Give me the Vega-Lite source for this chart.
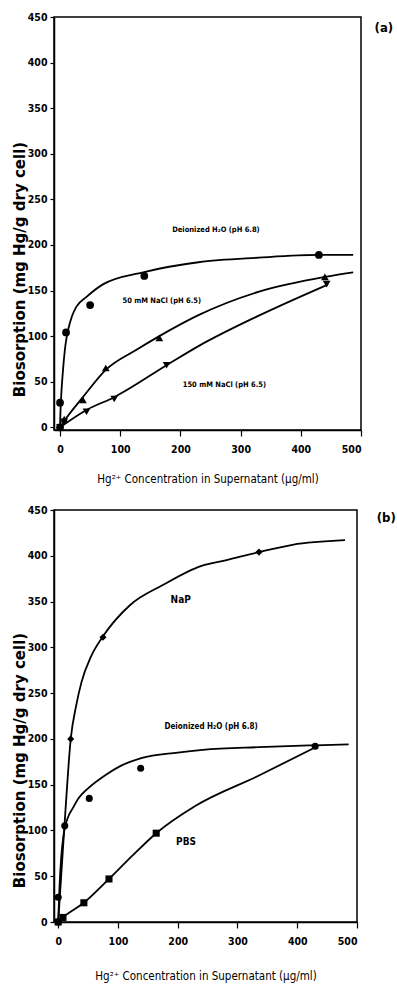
{
  "$schema": "https://vega.github.io/schema/vega-lite/v6.json",
  "background": "white",
  "padding": {"left": 11, "top": 11, "right": 0, "bottom": 0},
  "spacing": 80,
  "bounds": "flush",
  "config": {
    "view": {"stroke": "black", "strokeWidth": 1.5},
    "axis": {"domainColor": "black", "domainWidth": 1.5, "tickColor": "black", "tickWidth": 1.2, "grid": false,
             "labelFont": "DejaVu Sans Condensed", "labelFontWeight": "bold", "labelFontSize": 10.5, "labelColor": "black",
             "titleColor": "black"},
    "axisX": {"tickSize": 6, "labelPadding": 8, "titleFont": "DejaVu Sans Condensed", "titleFontWeight": "normal", "titleFontSize": 11.5, "titleBaseline": "alphabetic"},
    "axisY": {"tickSize": 4, "labelPadding": 3, "titleFont": "DejaVu Sans", "titleFontWeight": "bold", "titleFontSize": 15, "titleAngle": 270, "titleAlign": "center", "titleBaseline": "middle"}
  },
  "datasets": {
    "pts": [
      {"panel": "a", "series": "D", "x": 0, "y": 0},
      {"panel": "a", "series": "D", "x": 0, "y": 27},
      {"panel": "a", "series": "D", "x": 10, "y": 104},
      {"panel": "a", "series": "D", "x": 50, "y": 134},
      {"panel": "a", "series": "D", "x": 140, "y": 166},
      {"panel": "a", "series": "D", "x": 430, "y": 189},
      {"panel": "a", "series": "N50", "x": 0, "y": 0},
      {"panel": "a", "series": "N50", "x": 7, "y": 9},
      {"panel": "a", "series": "N50", "x": 38, "y": 30},
      {"panel": "a", "series": "N50", "x": 76, "y": 65},
      {"panel": "a", "series": "N50", "x": 165, "y": 98},
      {"panel": "a", "series": "N50", "x": 440, "y": 165},
      {"panel": "a", "series": "N150", "x": 0, "y": 0},
      {"panel": "a", "series": "N150", "x": 7, "y": 6},
      {"panel": "a", "series": "N150", "x": 44, "y": 17},
      {"panel": "a", "series": "N150", "x": 90, "y": 31},
      {"panel": "a", "series": "N150", "x": 177, "y": 68},
      {"panel": "a", "series": "N150", "x": 443, "y": 157},
      {"panel": "b", "series": "D", "x": 0, "y": 0},
      {"panel": "b", "series": "D", "x": 0, "y": 27},
      {"panel": "b", "series": "D", "x": 11, "y": 105},
      {"panel": "b", "series": "D", "x": 52, "y": 135},
      {"panel": "b", "series": "D", "x": 138, "y": 168},
      {"panel": "b", "series": "D", "x": 430, "y": 192},
      {"panel": "b", "series": "NaP", "x": 0, "y": 0},
      {"panel": "b", "series": "NaP", "x": 21, "y": 200},
      {"panel": "b", "series": "NaP", "x": 75, "y": 311},
      {"panel": "b", "series": "NaP", "x": 336, "y": 404},
      {"panel": "b", "series": "PBS", "x": 0, "y": 0},
      {"panel": "b", "series": "PBS", "x": 8, "y": 5},
      {"panel": "b", "series": "PBS", "x": 43, "y": 21},
      {"panel": "b", "series": "PBS", "x": 85, "y": 47},
      {"panel": "b", "series": "PBS", "x": 164, "y": 97}
    ],
    "curves": [
      {"panel": "a", "series": "D", "x": 0, "y": 0},
      {"panel": "a", "series": "D", "x": 0.5, "y": 12},
      {"panel": "a", "series": "D", "x": 2, "y": 35},
      {"panel": "a", "series": "D", "x": 5, "y": 63},
      {"panel": "a", "series": "D", "x": 9, "y": 90},
      {"panel": "a", "series": "D", "x": 13.5, "y": 107},
      {"panel": "a", "series": "D", "x": 20, "y": 122},
      {"panel": "a", "series": "D", "x": 27, "y": 132},
      {"panel": "a", "series": "D", "x": 44, "y": 143},
      {"panel": "a", "series": "D", "x": 72, "y": 157},
      {"panel": "a", "series": "D", "x": 138, "y": 170},
      {"panel": "a", "series": "D", "x": 230, "y": 181},
      {"panel": "a", "series": "D", "x": 330, "y": 186},
      {"panel": "a", "series": "D", "x": 430, "y": 189},
      {"panel": "a", "series": "D", "x": 487, "y": 189},
      {"panel": "a", "series": "N50", "x": 0, "y": 0},
      {"panel": "a", "series": "N50", "x": 5, "y": 5},
      {"panel": "a", "series": "N50", "x": 38, "y": 33},
      {"panel": "a", "series": "N50", "x": 76, "y": 63},
      {"panel": "a", "series": "N50", "x": 127, "y": 85},
      {"panel": "a", "series": "N50", "x": 165, "y": 100},
      {"panel": "a", "series": "N50", "x": 230, "y": 123},
      {"panel": "a", "series": "N50", "x": 332, "y": 149},
      {"panel": "a", "series": "N50", "x": 440, "y": 165},
      {"panel": "a", "series": "N50", "x": 487, "y": 170},
      {"panel": "a", "series": "N150", "x": 0, "y": 0},
      {"panel": "a", "series": "N150", "x": 44, "y": 19},
      {"panel": "a", "series": "N150", "x": 90, "y": 33},
      {"panel": "a", "series": "N150", "x": 177, "y": 68},
      {"panel": "a", "series": "N150", "x": 230, "y": 89},
      {"panel": "a", "series": "N150", "x": 332, "y": 123},
      {"panel": "a", "series": "N150", "x": 443, "y": 156},
      {"panel": "b", "series": "D", "x": 0, "y": 0},
      {"panel": "b", "series": "D", "x": 2, "y": 35},
      {"panel": "b", "series": "D", "x": 5, "y": 70},
      {"panel": "b", "series": "D", "x": 9, "y": 95},
      {"panel": "b", "series": "D", "x": 15, "y": 112},
      {"panel": "b", "series": "D", "x": 25, "y": 125},
      {"panel": "b", "series": "D", "x": 35, "y": 136},
      {"panel": "b", "series": "D", "x": 50, "y": 146},
      {"panel": "b", "series": "D", "x": 78, "y": 160},
      {"panel": "b", "series": "D", "x": 103, "y": 170},
      {"panel": "b", "series": "D", "x": 139, "y": 179},
      {"panel": "b", "series": "D", "x": 200, "y": 185},
      {"panel": "b", "series": "D", "x": 242, "y": 188},
      {"panel": "b", "series": "D", "x": 336, "y": 191},
      {"panel": "b", "series": "D", "x": 430, "y": 193},
      {"panel": "b", "series": "D", "x": 486, "y": 194},
      {"panel": "b", "series": "NaP", "x": 0, "y": 0},
      {"panel": "b", "series": "NaP", "x": 5, "y": 50},
      {"panel": "b", "series": "NaP", "x": 12, "y": 120},
      {"panel": "b", "series": "NaP", "x": 21, "y": 200},
      {"panel": "b", "series": "NaP", "x": 30, "y": 236},
      {"panel": "b", "series": "NaP", "x": 39, "y": 262},
      {"panel": "b", "series": "NaP", "x": 55, "y": 290},
      {"panel": "b", "series": "NaP", "x": 75, "y": 312},
      {"panel": "b", "series": "NaP", "x": 120, "y": 346},
      {"panel": "b", "series": "NaP", "x": 175, "y": 368},
      {"panel": "b", "series": "NaP", "x": 240, "y": 389},
      {"panel": "b", "series": "NaP", "x": 280, "y": 395},
      {"panel": "b", "series": "NaP", "x": 336, "y": 404},
      {"panel": "b", "series": "NaP", "x": 392, "y": 412},
      {"panel": "b", "series": "NaP", "x": 480, "y": 417},
      {"panel": "b", "series": "PBS", "x": 0, "y": 0},
      {"panel": "b", "series": "PBS", "x": 8, "y": 5},
      {"panel": "b", "series": "PBS", "x": 43, "y": 21},
      {"panel": "b", "series": "PBS", "x": 85, "y": 47},
      {"panel": "b", "series": "PBS", "x": 125, "y": 73},
      {"panel": "b", "series": "PBS", "x": 164, "y": 97},
      {"panel": "b", "series": "PBS", "x": 230, "y": 127},
      {"panel": "b", "series": "PBS", "x": 336, "y": 160},
      {"panel": "b", "series": "PBS", "x": 428, "y": 190}
    ],
    "labels": [
      {"panel": "a", "x": 259, "y": 216, "text": "Deionized H₂O (pH 6.8)", "size": 7.5},
      {"panel": "a", "x": 169, "y": 138, "text": "50 mM NaCl (pH 6.5)", "size": 7.5},
      {"panel": "a", "x": 273, "y": 46, "text": "150 mM NaCl (pH 6.5)", "size": 7.5},
      {"panel": "a", "x": 538, "y": 438, "text": "(a)", "size": 13},
      {"panel": "b", "x": 205, "y": 352, "text": "NaP", "size": 10},
      {"panel": "b", "x": 256, "y": 213, "text": "Deionized H₂O (pH 6.8)", "size": 8},
      {"panel": "b", "x": 214, "y": 87, "text": "PBS", "size": 10},
      {"panel": "b", "x": 549, "y": 441, "text": "(b)", "size": 13}
    ]
  },
  "vconcat": [
    {
      "width": 307,
      "height": 413,
      "layer": [
        {
          "data": {"name": "curves"},
          "transform": [{"filter": "datum.panel === 'a'"}],
          "mark": {"type": "line", "color": "black", "strokeWidth": 1.8, "interpolate": "monotone"},
          "encoding": {
            "x": {"field": "x", "type": "quantitative", "scale": {"domain": [-10, 500], "nice": false, "zero": false},
                  "axis": {"values": [0, 100, 200, 300, 400, 500], "title": "Hg²⁺ Concentration in Supernatant (µg/ml)", "titleY": 52}},
            "y": {"field": "y", "type": "quantitative", "scale": {"domain": [-3, 450], "nice": false, "zero": false},
                  "axis": {"values": [0, 50, 100, 150, 200, 250, 300, 350, 400, 450], "title": "Biosorption (mg Hg/g dry cell)", "titleX": -35, "titleY": 252}},
            "detail": {"field": "series"}
          }
        },
        {
          "data": {"name": "pts"},
          "transform": [{"filter": "datum.panel === 'a'"}],
          "mark": {"type": "point", "filled": true, "color": "black", "opacity": 1},
          "encoding": {
            "x": {"field": "x", "type": "quantitative"},
            "y": {"field": "y", "type": "quantitative"},
            "shape": {"field": "series", "type": "nominal", "legend": null,
                      "scale": {"domain": ["D", "N50", "N150", "NaP", "PBS"], "range": ["circle", "triangle-up", "triangle-down", "diamond", "square"]}},
            "size": {"value": 60}
          }
        },
        {
          "data": {"name": "labels"},
          "transform": [{"filter": "datum.panel === 'a'"}],
          "mark": {"type": "text", "font": "DejaVu Sans Condensed", "fontWeight": "bold", "color": "black", "baseline": "middle", "align": "center"},
          "encoding": {
            "x": {"field": "x", "type": "quantitative"},
            "y": {"field": "y", "type": "quantitative"},
            "text": {"field": "text"},
            "size": {"field": "size", "type": "quantitative", "scale": null}
          }
        }
      ]
    },
    {
      "width": 303,
      "height": 412,
      "layer": [
        {
          "data": {"name": "curves"},
          "transform": [{"filter": "datum.panel === 'b'"}],
          "mark": {"type": "line", "color": "black", "strokeWidth": 1.8, "interpolate": "monotone"},
          "encoding": {
            "x": {"field": "x", "type": "quantitative", "scale": {"domain": [-7, 500], "nice": false, "zero": false},
                  "axis": {"values": [0, 100, 200, 300, 400, 500], "title": "Hg²⁺ Concentration in Supernatant (µg/ml)", "titleY": 57}},
            "y": {"field": "y", "type": "quantitative", "scale": {"domain": [0, 450], "nice": false, "zero": false},
                  "axis": {"values": [0, 50, 100, 150, 200, 250, 300, 350, 400, 450], "title": "Biosorption (mg Hg/g dry cell)", "titleX": -35, "titleY": 250}},
            "detail": {"field": "series"}
          }
        },
        {
          "data": {"name": "pts"},
          "transform": [{"filter": "datum.panel === 'b'"}],
          "mark": {"type": "point", "filled": true, "color": "black", "opacity": 1},
          "encoding": {
            "x": {"field": "x", "type": "quantitative"},
            "y": {"field": "y", "type": "quantitative"},
            "shape": {"field": "series", "type": "nominal", "legend": null,
                      "scale": {"domain": ["D", "N50", "N150", "NaP", "PBS"], "range": ["circle", "triangle-up", "triangle-down", "diamond", "square"]}},
            "size": {"value": 50}
          }
        },
        {
          "data": {"name": "labels"},
          "transform": [{"filter": "datum.panel === 'b'"}],
          "mark": {"type": "text", "font": "DejaVu Sans Condensed", "fontWeight": "bold", "color": "black", "baseline": "middle", "align": "center"},
          "encoding": {
            "x": {"field": "x", "type": "quantitative"},
            "y": {"field": "y", "type": "quantitative"},
            "text": {"field": "text"},
            "size": {"field": "size", "type": "quantitative", "scale": null}
          }
        }
      ]
    }
  ]
}
